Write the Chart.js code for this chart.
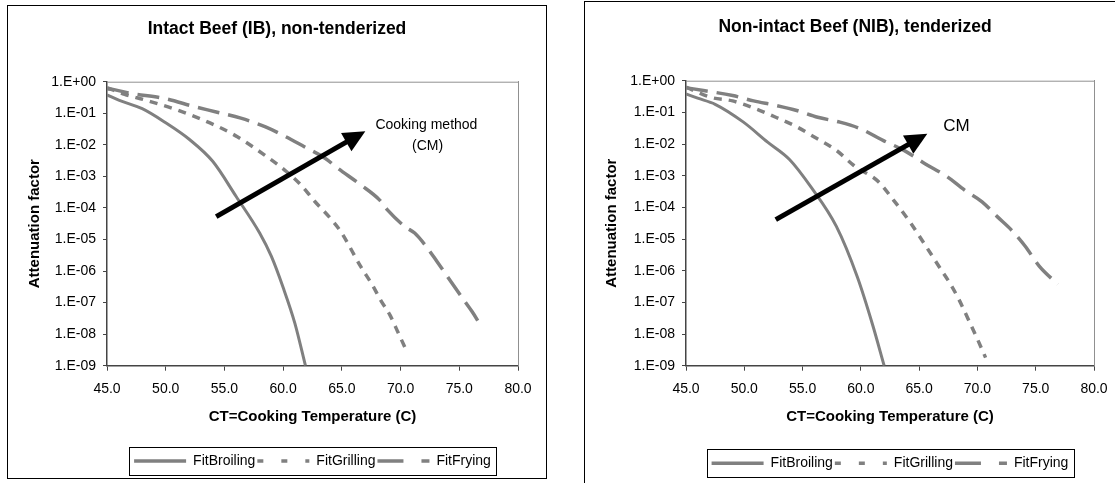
<!DOCTYPE html>
<html lang="en">
<head>
<meta charset="UTF-8">
<title>Attenuation factor vs cooking temperature</title>
<script src="https://cdn.jsdelivr.net/npm/chart.js"></script>
<style>
  html, body { margin: 0; padding: 0; background: #fff; overflow: hidden; }
  body { width: 1115px; height: 483px; position: relative; }
  .panel { position: absolute; border: 1px solid #000; background: #fff; }
  #panelIB { left: 7px; top: 5px; width: 538px; height: 472px; }
  #panelNIB { left: 584px; top: 1px; width: 540px; height: 490px; }
</style>
</head>
<body>
<div class="panel" id="panelIB"><canvas id="chartIB" width="538" height="472"></canvas></div>
<div class="panel" id="panelNIB"><canvas id="chartNIB" width="540" height="490"></canvas></div>
<script>
// series and axis data
const seriesNames = ['FitBroiling', 'FitGrilling', 'FitFrying'];
const xTicks = [45, 50, 55, 60, 65, 70, 75, 80];
const yTicks = [1, 1e-1, 1e-2, 1e-3, 1e-4, 1e-5, 1e-6, 1e-7, 1e-8, 1e-9];

// Intact beef (IB), non-tenderized
const ibBroilT  = [45, 46, 48, 50, 52, 54, 56, 58, 59, 60, 61, 61.9];
const ibBroilAF = [0.38, 0.26, 0.14, 0.05, 0.015, 0.003, 2.3e-4, 1.6e-5, 2.9e-6, 3e-7, 2.2e-8, 1e-9];
const ibGrillT  = [45, 46.5, 48.3, 51, 54.5, 56.1, 58.5, 60.3, 61.5, 62.7, 63.9, 64.9, 66.6, 67.6, 68.3, 69.1, 69.8, 70.6];
const ibGrillAF = [0.65, 0.4, 0.26, 0.126, 0.037, 0.018, 0.0045, 1.4e-3, 5.4e-4, 1.6e-4, 5.3e-5, 1.8e-5, 1.4e-6, 3.6e-7, 1.2e-7, 4e-8, 1.1e-8, 2.5e-9];
const ibFryT    = [45, 45.7, 47, 49.8, 52.5, 54.3, 56.4, 58.5, 60, 61.8, 63.6, 64.5, 66.6, 68.2, 68.9, 70.4, 71.2, 72.2, 73.1, 74, 75.2, 76.1, 76.9];
const ibFryAF   = [0.6, 0.55, 0.43, 0.3, 0.16, 0.11, 0.07, 0.037, 0.02, 0.0087, 0.0037, 0.002, 5.4e-4, 1.8e-4, 8.5e-5, 2.5e-5, 1.6e-5, 5.9e-6, 2e-6, 6.6e-7, 1.5e-7, 5.1e-8, 1.7e-8];
const ibArrow   = [[54.3, 5.3e-5], [67.0, 0.027]];
const ibNotes   = ['Cooking method', '(CM)'];
const ibNoteAt  = [[72.2, 0.042], [72.3, 0.0091]];

// Non-intact beef (NIB), tenderized
const nibBroilT  = [45, 46, 47.5, 49.9, 52, 53.9, 55.7, 57.9, 59.7, 61, 62];
const nibBroilAF = [0.38, 0.28, 0.18, 0.05, 0.0115, 0.0032, 4.5e-4, 2.5e-5, 6.3e-7, 2e-8, 1e-9];
const nibGrillT  = [45, 47.1, 49, 51, 52.7, 54.5, 56, 57.9, 59.4, 61.5, 62.8, 64.2, 65.5, 66.8, 67.7, 68.4, 69.2, 70, 70.7];
const nibGrillAF = [0.63, 0.3, 0.23, 0.13, 0.07, 0.035, 0.0166, 0.0063, 2.1e-3, 6.5e-4, 1.7e-4, 3.5e-5, 6.6e-6, 1.2e-6, 3.7e-7, 1.26e-7, 3e-8, 6.9e-9, 1.8e-9];
const nibFryT    = [45, 46.5, 49, 50.8, 52.7, 54.5, 56.3, 58.2, 60, 61.9, 63.7, 65.5, 67.4, 68.9, 70.4, 71.7, 72.9, 74.1, 75.3, 76.9];
const nibFryAF   = [0.6, 0.49, 0.34, 0.23, 0.166, 0.115, 0.07, 0.049, 0.03, 0.013, 0.0063, 0.0024, 9.3e-4, 3.5e-4, 1.5e-4, 5.1e-5, 1.95e-5, 5.9e-6, 1.4e-6, 3.7e-7];
const nibArrow   = [[52.7, 4.1e-5], [65.7, 0.021]];
const nibNotes   = ['CM'];
const nibNoteAt  = [[68.2, 0.036]];

const GREY = '#808080';
const AXIS = '#444';
const lineDashes = [[], [8, 7], [22, 9]];
const legendDashes = [[], [6, 18], [26, 18]];

Chart.defaults.font.family = "'Liberation Sans', Arial, sans-serif";
Chart.defaults.color = '#000';

const fmtExp = v => {
  const e = Math.round(Math.log10(v));
  return '1.E' + (e >= 0 ? '+' : '-') + String(Math.abs(e)).padStart(2, '0');
};

// draws the grey top frame line, the legend box and the arrow with its note
const extras = {
  id: 'arrowNote',
  beforeDatasetsDraw(chart) {
    const {ctx, chartArea: a} = chart;
    ctx.save();
    ctx.strokeStyle = '#909090';
    ctx.lineWidth = 1;
    ctx.beginPath();
    ctx.moveTo(a.left, a.top + 0.5);
    ctx.lineTo(a.right, a.top + 0.5);
    ctx.stroke();
    ctx.restore();
  },
  afterDatasetsDraw(chart, args, opts) {
    const {ctx, scales: {x, y}} = chart;
    const x0 = x.getPixelForValue(opts.arrow[0][0]), y0 = y.getPixelForValue(opts.arrow[0][1]);
    const x1 = x.getPixelForValue(opts.arrow[1][0]), y1 = y.getPixelForValue(opts.arrow[1][1]);
    const ang = Math.atan2(y1 - y0, x1 - x0);
    const head = 22, half = 10.5;
    const bx = x1 - head * Math.cos(ang), by = y1 - head * Math.sin(ang);
    ctx.save();
    ctx.strokeStyle = '#000';
    ctx.fillStyle = '#000';
    ctx.lineWidth = 5;
    ctx.beginPath();
    ctx.moveTo(x0, y0);
    ctx.lineTo(bx + 2 * Math.cos(ang), by + 2 * Math.sin(ang));
    ctx.stroke();
    ctx.beginPath();
    ctx.moveTo(x1, y1);
    ctx.lineTo(bx + half * Math.sin(ang), by - half * Math.cos(ang));
    ctx.lineTo(bx - half * Math.sin(ang), by + half * Math.cos(ang));
    ctx.closePath();
    ctx.fill();
    ctx.font = opts.size + "px 'Liberation Sans', Arial, sans-serif";
    ctx.textAlign = 'center';
    ctx.textBaseline = 'middle';
    opts.notes.forEach((t, i) => {
      ctx.fillText(t, x.getPixelForValue(opts.at[i][0]), y.getPixelForValue(opts.at[i][1]));
    });
    ctx.restore();
  },
  afterDraw(chart) {
    const lg = chart.legend;
    if (!lg || !lg.lineWidths) return;
    const pad = lg.options.labels.padding;
    const w = lg.lineWidths[0];
    const rowLeft = (lg.left + pad + lg.right - w) / 2;
    const rowRight = rowLeft + w - pad;
    const cy = lg.top + pad + 7;
    const ctx = chart.ctx;
    ctx.save();
    ctx.strokeStyle = '#000';
    ctx.lineWidth = 1;
    ctx.strokeRect(Math.round(rowLeft - 5) + 0.5, Math.round(cy - 14) + 0.5, Math.round(rowRight - rowLeft + 10), 28);
    ctx.restore();
  }
};

function makeChart(id, title, series, note, lay) {
  const datasets = series.map((s, i) => ({
    label: seriesNames[i],
    data: s[0].map((t, k) => ({x: t, y: s[1][k]})),
    borderColor: GREY,
    backgroundColor: GREY,
    borderWidth: i === 0 ? 3 : 3.5,
    borderDash: lineDashes[i],
    pointRadius: 0,
    cubicInterpolationMode: 'monotone',
    fill: false,
    xAxisID: 'x',
    yAxisID: 'y'
  }));
  return new Chart(document.getElementById(id), {
    type: 'line',
    data: {datasets},
    plugins: [extras],
    options: {
      responsive: false,
      animation: false,
      events: [],
      layout: {padding: {left: 10, right: 10, top: 0, bottom: lay.padBottom}},
      plugins: {
        title: {
          display: true, text: title, color: '#000',
          font: {size: 17.5, weight: 'bold'},
          padding: {top: lay.titleTop, bottom: lay.titleBottom}
        },
        legend: {
          position: 'bottom',
          fullSize: false,
          labels: {
            usePointStyle: true, pointStyle: 'line', pointStyleWidth: 52,
            padding: 2, color: '#000', font: {size: 14},
            generateLabels: c => Chart.defaults.plugins.legend.labels.generateLabels(c)
              .map((it, i) => Object.assign(it, {lineDash: legendDashes[i], lineWidth: 3.5}))
          }
        },
        tooltip: {enabled: false},
        arrowNote: note
      },
      scales: {
        x: {
          type: 'linear', min: 45, max: 80,
          afterBuildTicks: s => { s.ticks = xTicks.map(v => ({value: v})); },
          ticks: {callback: v => Number(v).toFixed(1), font: {size: 14}, color: '#000', padding: 10, maxRotation: 0, autoSkip: false},
          grid: {drawOnChartArea: false, tickLength: 5, color: AXIS},
          border: {color: AXIS, width: 1.5},
          title: {
            display: true, text: 'CT=Cooking Temperature (C)', color: '#000',
            font: {size: 15, weight: 'bold'},
            padding: {top: 0.2, bottom: lay.xTitleBottom}
          }
        },
        y: {
          type: 'logarithmic', min: 1e-9, max: 1,
          afterBuildTicks: s => { s.ticks = yTicks.map(v => ({value: v})); },
          ticks: {callback: v => fmtExp(v), font: {size: 14}, color: '#000', padding: 7, autoSkip: false},
          grid: {drawOnChartArea: false, tickLength: 4, color: AXIS},
          border: {color: AXIS, width: 1.5},
          title: {
            display: true, text: 'Attenuation factor', color: '#000',
            font: {size: 15, weight: 'bold'},
            padding: {top: 8, bottom: 0}
          },
          afterFit: s => { s.width = lay.yWidth; }
        },
        y2: {
          type: 'linear', position: 'right',
          ticks: {display: false},
          grid: {display: false, drawTicks: false},
          border: {display: true, color: '#909090', width: 1},
          afterFit: s => { s.width = lay.rightWidth; }
        }
      }
    }
  });
}

makeChart('chartIB', 'Intact Beef (IB), non-tenderized',
  [[ibBroilT, ibBroilAF], [ibGrillT, ibGrillAF], [ibFryT, ibFryAF]],
  {arrow: ibArrow, notes: ibNotes, at: ibNoteAt, size: 14},
  {yWidth: 89, rightWidth: 18, titleTop: 12.8, titleBottom: 41.9, xTitleBottom: 26.3, padBottom: 0});

makeChart('chartNIB', 'Non-intact Beef (NIB), tenderized',
  [[nibBroilT, nibBroilAF], [nibGrillT, nibGrillAF], [nibFryT, nibFryAF]],
  {arrow: nibArrow, notes: nibNotes, at: nibNoteAt, size: 17},
  {yWidth: 91, rightWidth: 21, titleTop: 14.2, titleBottom: 43.5, xTitleBottom: 28.6, padBottom: 11.7});
</script>
</body>
</html>
